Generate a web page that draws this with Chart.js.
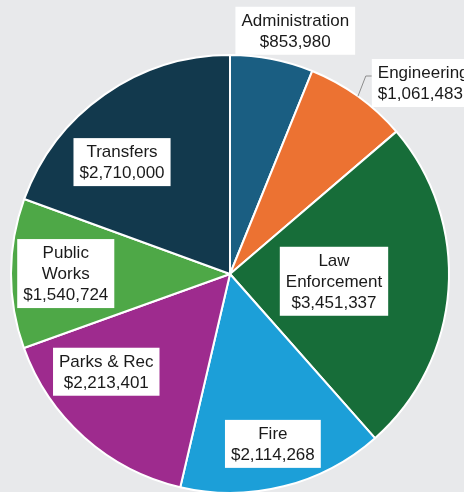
<!DOCTYPE html>
<html>
<head>
<meta charset="utf-8">
<script src="https://cdn.jsdelivr.net/npm/chart.js@4.4.0/dist/chart.umd.min.js"></script>
<style>
  html, body { margin: 0; padding: 0; background: #e8e9eb; overflow: hidden; }
  #wrap { position: relative; width: 464px; height: 500px; }
</style>
</head>
<body>
<div id="wrap"><canvas id="myChart"></canvas></div>
<script>
const categories = ['Administration', 'Engineering', ['Law', 'Enforcement'], 'Fire', 'Parks & Rec', ['Public', 'Works'], 'Transfers'];
const amounts = [853980, 1061483, 3451337, 2114268, 2213401, 1540724, 2710000];
const sliceColors = ['#1a5e82', '#ec7232', '#176d39', '#1c9fd8', '#9e2b8e', '#4ea847', '#12394d'];

// label placement: fraction of radius, angle shift (deg) from slice middle, text alignment
const labelRadius = [1.15, 1.1, 0.476, 0.8, 0.72, 0.75, 0.71];
const labelShift = [4, 1.8, 0, 0, 10, 0, -9];
const labelAlign = ['center', 'left', 'center', 'center', 'center', 'center', 'center'];
const leaderLine = [false, true, false, false, false, false, false];

const money = v => '$' + v.toLocaleString('en-US');

const boxLabels = {
  id: 'boxLabels',
  afterDatasetsDraw(chart) {
    const ctx = chart.ctx;
    const arcs = chart.getDatasetMeta(0).data;
    const font = '17px "Liberation Sans", Arial, sans-serif';
    const lh = 21, padX = 6, padY = 3;
    ctx.save();
    ctx.font = font;
    arcs.forEach((arc, i) => {
      const mid = (arc.startAngle + arc.endAngle) / 2;
      const a = mid + labelShift[i] * Math.PI / 180;
      const r = arc.outerRadius * labelRadius[i];
      const px = arc.x + Math.cos(a) * r;
      const py = arc.y + Math.sin(a) * r;
      const cat = categories[i];
      const lines = (Array.isArray(cat) ? cat : [cat]).concat([money(amounts[i])]);
      const w = Math.max(...lines.map(t => ctx.measureText(t).width));
      const h = lines.length * lh;
      let left = labelAlign[i] === 'left' ? px - padX + 1 : px - w / 2 - padX;
      const top = py - h / 2 - padY;
      if (leaderLine[i]) {
        const ex = arc.x + Math.cos(mid) * arc.outerRadius;
        const ey = arc.y + Math.sin(mid) * arc.outerRadius;
        ctx.strokeStyle = '#8c8c8c';
        ctx.lineWidth = 1;
        ctx.beginPath();
        ctx.moveTo(ex, ey);
        ctx.lineTo(left - 6, top + 17);
        ctx.lineTo(left, top + 17);
        ctx.stroke();
      }
      ctx.fillStyle = '#ffffff';
      ctx.fillRect(left, top, w + padX * 2, h + padY * 2);
      ctx.fillStyle = '#1a1a1a';
      ctx.textBaseline = 'middle';
      lines.forEach((t, k) => {
        const ty = top + padY + lh * k + lh / 2 + 1;
        if (labelAlign[i] === 'left') {
          ctx.textAlign = 'left';
          ctx.fillText(t, left + padX, ty);
        } else {
          ctx.textAlign = 'center';
          ctx.fillText(t, left + padX + w / 2, ty);
        }
      });
    });
    ctx.restore();
  }
};

const ctx = document.getElementById('myChart').getContext('2d');

const data = {
  labels: categories,
  datasets: [{
    data: amounts,
    backgroundColor: sliceColors,
    borderColor: '#ffffff',
    borderWidth: 2
  }]
};

const config = {
  type: 'pie',
  data,
  options: {
    responsive: true,
    maintainAspectRatio: false,
    animation: false,
    layout: { padding: { left: 10, right: 14, top: 54, bottom: 6 } },
    plugins: {
      legend: { display: false },
      tooltip: { enabled: false }
    }
  },
  plugins: [boxLabels]
};

const myChart = new Chart(ctx, config);
</script>
</body>
</html>
